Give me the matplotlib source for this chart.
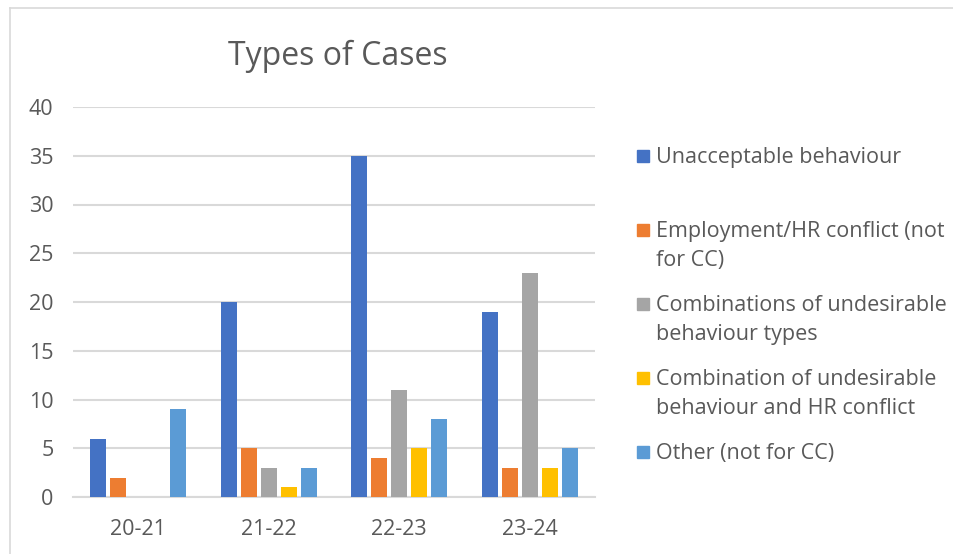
import numpy as np
import matplotlib
matplotlib.use('Agg')
import matplotlib.pyplot as plt
from matplotlib.patches import Rectangle
from matplotlib.lines import Line2D

plt.rcParams['font.family'] = ['Open Sans', 'DejaVu Sans']

# data
years = ['20-21', '21-22', '22-23', '23-24']
series_names = [
    'Unacceptable behaviour',
    'Employment/HR conflict (not\nfor CC)',
    'Combinations of undesirable\nbehaviour types',
    'Combination of undesirable\nbehaviour and HR conflict',
    'Other (not for CC)',
]
unacceptable = [6, 20, 35, 19]
employment_hr = [2, 5, 4, 3]
combos_types = [0, 3, 11, 23]
combo_hr = [0, 1, 5, 3]
other = [9, 3, 8, 5]
series = [unacceptable, employment_hr, combos_types, combo_hr, other]
colors = ['#4472C4', '#ED7D31', '#A5A5A5', '#FFC000', '#5B9BD5']

TXT = '#595959'
GRID = '#D9D9D9'

W, H = 954, 554
fig = plt.figure(figsize=(W / 100, H / 100), dpi=100)
fig.patch.set_facecolor('white')
ax = fig.add_axes([73 / W, 1 - 497 / H, (595 - 73) / W, (497 - 107) / H])

x = np.arange(len(years))
pitch = 0.153
bw = 0.123
for i, (vals, c) in enumerate(zip(series, colors)):
    ax.bar(x + (i - 2) * pitch, vals, width=bw, color=c, zorder=3)

ax.set_xlim(-0.5, len(years) - 0.5)
ax.set_ylim(0, 40)
ax.set_yticks(np.arange(0, 41, 5))
ax.set_xticks(x)
ax.set_xticklabels(years)
ax.grid(axis='y', color=GRID, lw=1.5, zorder=0)
for s in ['top', 'right', 'left']:
    ax.spines[s].set_visible(False)
ax.spines['bottom'].set_color(GRID)
ax.spines['bottom'].set_linewidth(1.5)
ax.tick_params(length=0, labelsize=15.5, colors=TXT)
ax.tick_params(axis='y', pad=14)
ax.tick_params(axis='x', pad=16)

fig.text(338 / W, 1 - 56 / H, 'Types of Cases', ha='center', va='center',
         fontsize=23, color=TXT)

# legend drawn by hand (Excel-style fixed slots)
for i, (lab, c) in enumerate(zip(series_names, colors)):
    y0 = 156 + 74 * i
    fig.add_artist(Rectangle((637 / W, 1 - (y0 + 6) / H), 12 / W, 12 / H,
                             transform=fig.transFigure, color=c))
    fig.text(656 / W, 1 - (y0 - 9) / H, lab, ha='left', va='top',
             fontsize=15.5, color=TXT, linespacing=1.5)

# chart border (top and left visible)
fig.add_artist(Line2D([10 / W, 1], [1 - 8 / H, 1 - 8 / H], transform=fig.transFigure,
                      color=GRID, lw=1.2))
fig.add_artist(Line2D([10 / W, 10 / W], [0, 1 - 8 / H], transform=fig.transFigure,
                      color=GRID, lw=1.2))

fig.savefig('out.png', dpi=100, facecolor='white')
